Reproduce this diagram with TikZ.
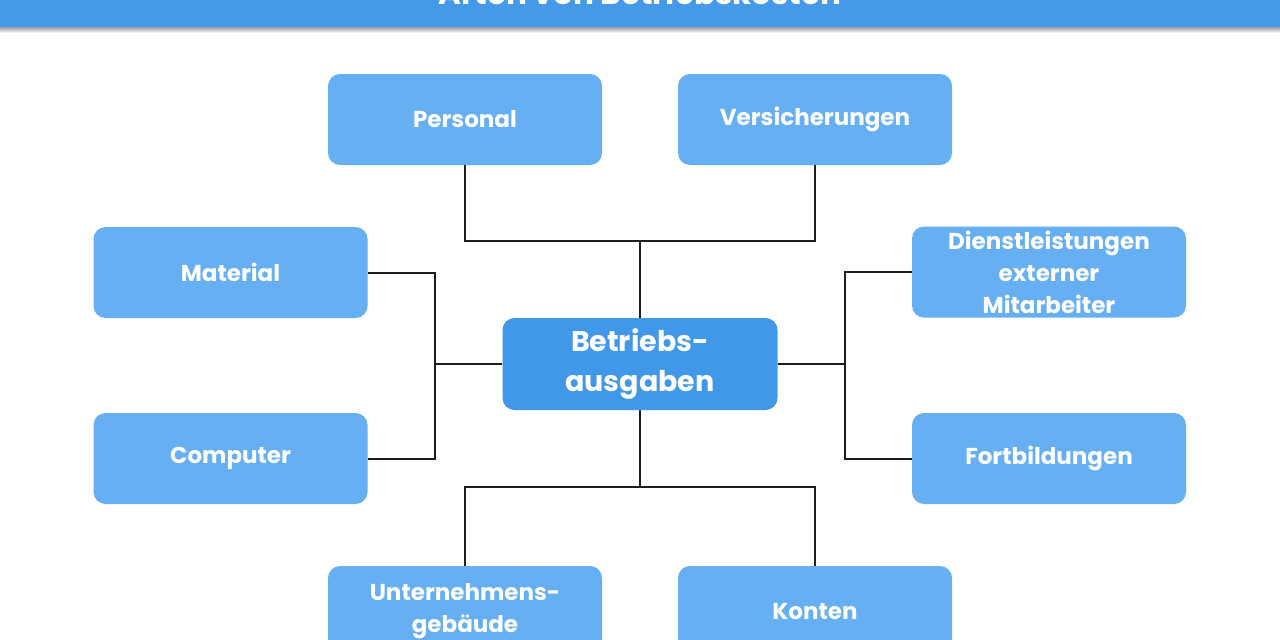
\documentclass[tikz,border=0pt]{standalone}
\usepackage{fontspec}
\setmainfont{Poppins}
\usetikzlibrary{positioning}
\definecolor{boxblue}{HTML}{66AFF3}
\definecolor{mainblue}{HTML}{4198E9}
\definecolor{headblue}{HTML}{4499E8}
\definecolor{linecol}{HTML}{1E1E1E}
\tikzset{
  cat/.style={draw=none, fill=boxblue, rounded corners=12pt, minimum width=274pt, minimum height=91pt,
    text=white, font=\fontsize{23}{32}\selectfont\bfseries, align=center, inner sep=0pt},
  hub/.style={cat, fill=mainblue, minimum width=275pt, minimum height=92pt, font=\fontsize{28.5}{40}\selectfont\bfseries},
  conn/.style={draw=linecol, line width=2pt}
}
\begin{document}
\begin{tikzpicture}[x=1pt,y=-1pt]
\useasboundingbox (0,0) rectangle (1280,640);
\begin{scope}
\clip (0,0) rectangle (1280,640);
% header
\shade[top color=black!45, bottom color=white] (0,26) rectangle (1280,33);
\fill[headblue] (0,-10) rectangle (1280,27);
\node[text=white, font=\fontsize{31}{33}\selectfont\bfseries, anchor=base] (title) at (640,4) {Arten von Betriebskosten};
% nodes
\node[hub] (c) at (640,364) {Betriebs-\\ausgaben};
\node[cat] (pers) at (465,119.5) {Personal};
\node[cat] (vers) at (815,119.5) {Versicherungen};
\node[cat] (mat) at (230.5,272.5) {Material};
\node[cat] (comp) at (230.5,458.5) {Computer};
\node[cat] (dien) at (1049,272) {Dienstleistungen\\externer\\Mitarbeiter};
\node[cat] (fort) at (1049,458.5) {Fortbildungen};
\node[cat] (unt) at (465,611.5) {Unternehmens-\\gebäude};
\node[cat] (kont) at (815,611.5) {Konten};
% junction coordinates
\coordinate (jt) at (640,241);
\coordinate (jb) at (640,487);
\coordinate (jl) at (435,364);
\coordinate (jr) at (845,364);
% connectors
\draw[conn] (c.north) -- (jt);
\draw[conn] (pers.south) |- (jt) -| (vers.south);
\draw[conn] (c.south) -- (jb);
\draw[conn] (unt.north) |- (jb) -| (kont.north);
\draw[conn] (c.west) -- (jl);
\draw[conn] (mat.east) -| (jl) |- (comp.east);
\draw[conn] (c.east) -- (jr);
\draw[conn] (dien.west) -| (jr) |- (fort.west);
\end{scope}
\end{tikzpicture}
\end{document}
